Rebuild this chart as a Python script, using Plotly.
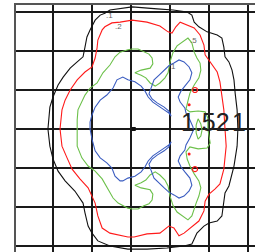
import plotly.graph_objects as go

# ---- contour level 0.1 (black) ----
black_x = [-2.13, -2.08, -2.00, -1.87, -1.74, -1.56, -1.38, -1.23, -1.18, -1.13, -1.05, -0.92, -0.79, -0.67, -0.54, -0.28, 0.03, 0.67, 1.08, 1.44, 1.56, 1.62, 1.74, 1.95, 2.21, 2.33, 2.38, 2.41, 2.51, 2.59, 2.64, 2.67, 2.72, 2.74,
           2.72, 2.64, 2.51, 2.41, 2.38, 2.33, 2.21, 2.00, 1.87, 1.69, 1.62, 1.56, 1.36, 0.92, 0.41, -0.08, -0.54, -0.85, -1.00, -1.10, -1.18, -1.23, -1.44, -1.69, -1.87, -2.00, -2.08, -2.13]
black_y = [0, 0.56, 0.82, 1.13, 1.33, 1.56, 1.72, 1.85, 2.10, 2.36, 2.54, 2.79, 2.92, 2.97, 3.05, 3.08, 3.13, 3.08, 3.05, 3.00, 2.92, 2.74, 2.62, 2.49, 2.41, 2.33, 2.10, 1.85, 1.72, 1.51, 1.26, 0.92, 0.49, 0,
           -0.44, -0.95, -1.46, -1.64, -1.90, -2.23, -2.36, -2.41, -2.49, -2.67, -2.82, -2.95, -3.00, -3.05, -3.08, -3.08, -3.00, -2.87, -2.67, -2.49, -2.15, -1.90, -1.59, -1.33, -1.08, -0.77, -0.44, 0]

# ---- contour level 0.2 (red) ----
red_x = [-1.82, -1.77, -1.69, -1.56, -1.38, -1.18, -1.00, -0.92, -0.87, -0.85, -0.74, -0.67, -0.49, -0.28, 0.03, 0.41, 0.74, 0.95, 1.05, 1.15, 1.26, 1.44, 1.62, 1.77, 1.87, 1.90, 2.03, 2.21, 2.28, 2.33, 2.38, 2.41,
         2.44, 2.38, 2.28, 2.15, 2.00, 1.90, 1.87, 1.74, 1.51, 1.36, 1.23, 1.18, 1.10, 0.97, 0.74, 0.41, 0.08, -0.08, -0.54, -0.74, -0.85, -0.92, -1.10, -1.31, -1.51, -1.64, -1.77, -1.82]
red_y = [0, 0.49, 0.74, 1.00, 1.26, 1.46, 1.59, 1.82, 2.08, 2.28, 2.54, 2.62, 2.72, 2.74, 2.79, 2.74, 2.64, 2.49, 2.46, 2.62, 2.74, 2.67, 2.59, 2.41, 2.15, 1.90, 1.72, 1.46, 1.21, 0.82, 0.49, 0,
         -0.44, -1.03, -1.41, -1.54, -1.67, -1.85, -2.10, -2.36, -2.54, -2.67, -2.74, -2.67, -2.54, -2.49, -2.67, -2.69, -2.77, -2.77, -2.67, -2.54, -2.23, -1.90, -1.51, -1.28, -1.03, -0.74, -0.44, 0]

# ---- contour level 0.5 (green) ----
green_x = [-1.38, -1.38, -1.36, -1.26, -1.18, -1.05, -0.87, -0.72, -0.54, -0.41, -0.28, -0.08, 0.03, 0.18, 0.33, 0.46, 0.54, 0.56, 0.49, 0.26, 0.10, 0.26, 0.38, 0.49, 0.62, 0.74, 0.87, 0.95, 1.00, 1.08, 1.18, 1.31, 1.46, 1.56, 1.62, 1.69, 1.77, 1.79, 1.74, 1.62, 1.51, 1.46, 1.41, 1.51, 1.72, 1.90, 1.97, 1.97,
           2.00, 2.03, 1.95, 1.72, 1.51, 1.41, 1.44, 1.51, 1.62, 1.74, 1.79, 1.74, 1.67, 1.62, 1.56, 1.46, 1.31, 1.18, 1.08, 1.00, 0.95, 0.87, 0.74, 0.62, 0.49, 0.38, 0.26, 0.10, 0.26, 0.49, 0.56, 0.54, 0.46, 0.33, 0.18, 0.03, -0.08, -0.21, -0.33, -0.46, -0.62, -0.74, -0.92, -1.10, -1.26, -1.38, -1.38]
green_y = [0, 0.23, 0.49, 0.69, 0.87, 1.05, 1.18, 1.44, 1.64, 1.85, 1.97, 2.03, 2.05, 2.05, 1.97, 1.92, 1.82, 1.67, 1.56, 1.51, 1.44, 1.38, 1.31, 1.18, 1.10, 1.18, 1.31, 1.44, 1.72, 1.97, 2.13, 2.23, 2.33, 2.21, 1.97, 1.82, 1.69, 1.51, 1.31, 1.13, 0.92, 0.72, 0.51, 0.44, 0.46, 0.44, 0.28, 0,
           -0.21, -0.36, -0.49, -0.51, -0.46, -0.59, -0.77, -0.95, -1.15, -1.33, -1.51, -1.72, -1.90, -2.08, -2.23, -2.33, -2.23, -2.13, -1.97, -1.72, -1.46, -1.31, -1.18, -1.10, -1.18, -1.31, -1.38, -1.44, -1.51, -1.56, -1.67, -1.82, -1.92, -1.97, -2.05, -2.05, -2.03, -1.97, -1.90, -1.77, -1.51, -1.28, -1.08, -0.95, -0.74, -0.44, 0]

# small inner 0.5 loop
green2_x = [1.72, 1.79, 1.82, 1.79, 1.72, 1.67, 1.67, 1.72]
green2_y = [0.26, 0.13, -0.03, -0.18, -0.26, -0.10, 0.10, 0.26]

# ---- contour level 1 (blue) ----
blue_x = [-1.05, -1.05, -1.00, -0.92, -0.79, -0.62, -0.46, -0.36, -0.21, -0.08, 0.10, 0.26, 0.36, 0.44, 0.56, 0.69, 0.85, 0.97, 1.03, 0.97, 0.85, 0.67, 0.54, 0.46, 0.51, 0.59, 0.72, 0.85, 0.97, 1.10, 1.23, 1.36, 1.49, 1.56, 1.51, 1.38, 1.28, 1.21, 1.26, 1.38, 1.41, 1.51, 1.59, 1.59,
          1.59, 1.51, 1.41, 1.38, 1.26, 1.21, 1.28, 1.38, 1.51, 1.56, 1.49, 1.36, 1.23, 1.10, 0.97, 0.85, 0.72, 0.59, 0.51, 0.46, 0.54, 0.67, 0.85, 0.97, 1.03, 0.97, 0.85, 0.69, 0.56, 0.44, 0.36, 0.26, 0.10, -0.08, -0.21, -0.28, -0.41, -0.49, -0.62, -0.79, -0.92, -1.00, -1.05]
blue_y = [0, 0.18, 0.36, 0.56, 0.74, 0.87, 1.05, 1.26, 1.33, 1.26, 1.21, 1.10, 0.97, 0.82, 0.69, 0.59, 0.49, 0.41, 0.33, 0.46, 0.56, 0.67, 0.77, 0.90, 1.05, 1.26, 1.38, 1.51, 1.62, 1.69, 1.77, 1.72, 1.59, 1.44, 1.26, 1.10, 0.97, 0.82, 0.69, 0.54, 0.41, 0.23, 0.05, 0,
          -0.05, -0.23, -0.41, -0.54, -0.69, -0.82, -0.97, -1.10, -1.26, -1.44, -1.59, -1.72, -1.77, -1.69, -1.62, -1.51, -1.38, -1.26, -1.05, -0.90, -0.77, -0.67, -0.56, -0.46, -0.33, -0.41, -0.49, -0.59, -0.69, -0.82, -0.97, -1.10, -1.21, -1.26, -1.33, -1.33, -1.21, -1.00, -0.87, -0.74, -0.56, -0.26, 0]

# tiny 0.2 islands
red_ring_x = [1.64, 1.64]
red_ring_y = [1.00, -1.03]
red_dot_x = [1.49, 1.49]
red_dot_y = [0.62, -0.64]

# centre mark
center_x = [0.07]
center_y = [0]

# contour labels (small)
small_labels = [".1", ".2", ".5", "1"]
small_label_x = [-0.54, -0.33, 1.59, 1.10]
small_label_y = [2.92, 2.62, 2.26, 1.59]

# big labels on the right
big_labels = ["1.52", "1"]
big_label_x = [1.91, 2.77]
big_label_y = [0.17, 0.17]

fig = go.Figure()
line_w = 1.1
fig.add_trace(go.Scatter(x=black_x, y=black_y, mode="lines", line=dict(color="#111111", width=line_w)))
fig.add_trace(go.Scatter(x=red_x, y=red_y, mode="lines", line=dict(color="#ff1a1a", width=line_w)))
fig.add_trace(go.Scatter(x=green_x, y=green_y, mode="lines", line=dict(color="#6cc04a", width=line_w)))
fig.add_trace(go.Scatter(x=green2_x, y=green2_y, mode="lines", line=dict(color="#6cc04a", width=line_w)))
fig.add_trace(go.Scatter(x=blue_x, y=blue_y, mode="lines", line=dict(color="#3a5cc0", width=line_w)))
fig.add_trace(go.Scatter(x=red_ring_x, y=red_ring_y, mode="markers",
                         marker=dict(symbol="circle-open", size=5, color="#ff1a1a", line=dict(width=1.2))))
fig.add_trace(go.Scatter(x=red_dot_x, y=red_dot_y, mode="markers",
                         marker=dict(symbol="circle", size=3, color="#ff1a1a")))
fig.add_trace(go.Scatter(x=center_x, y=center_y, mode="markers",
                         marker=dict(symbol="square", size=4, color="#111111")))

for t, x, y in zip(small_labels, small_label_x, small_label_y):
    fig.add_annotation(x=x, y=y, text=t, showarrow=False,
                       font=dict(family="Liberation Sans", size=8, color="#666666"))
for t, x, y in zip(big_labels, big_label_x, big_label_y):
    fig.add_annotation(x=x, y=y, text=t, showarrow=False,
                       font=dict(family="Liberation Sans", size=25, color="#222222"))

axis_common = dict(showticklabels=False, ticks="", zeroline=False,
                   showgrid=True, gridcolor="#1a1a1a", gridwidth=1.6,
                   dtick=1, tick0=0, fixedrange=True)
fig.update_xaxes(range=[-2.949, 3.179], showline=True, linecolor="#555555", linewidth=2,
                 side="top", **axis_common)
fig.update_yaxes(range=[-3.154, 3.179], showline=True, linecolor="#555555", linewidth=2,
                 **axis_common)

fig.update_layout(width=255, height=252, margin=dict(l=16, r=0, t=5, b=0),
                  paper_bgcolor="white", plot_bgcolor="white", showlegend=False)

fig.write_html("out.html", config={"displayModeBar": False},
               post_script="document.body.style.margin='0px';document.body.style.overflow='hidden';")
